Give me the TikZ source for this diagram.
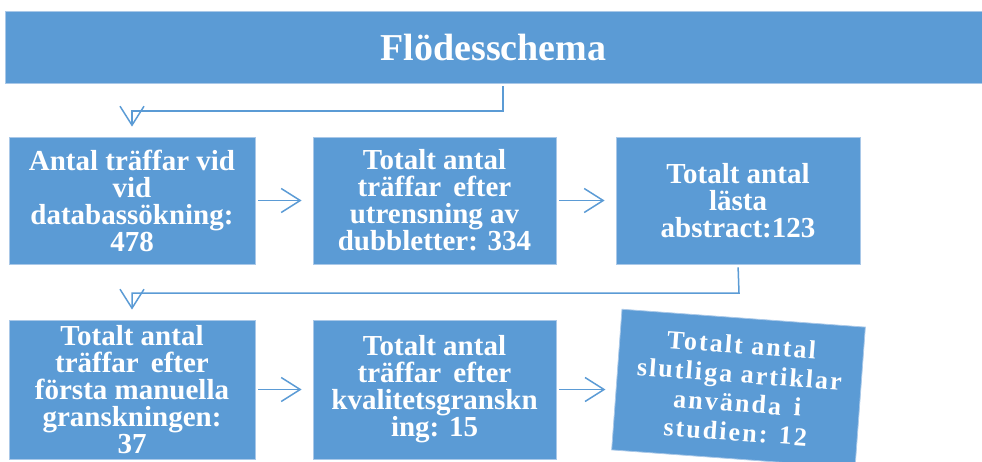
\documentclass[tikz,border=0pt]{standalone}
\usepackage{fontspec}
\setmainfont{Liberation Serif}
\usepackage{tikz}
\usetikzlibrary{arrows.meta}
\definecolor{officeblue}{HTML}{5B9BD5}
\definecolor{edgeblue}{HTML}{A9C8E8}
\tikzstyle{stepbox} = [draw=edgeblue, line width=0.8pt, fill=officeblue, text=white, align=center, inner sep=0pt, font=\bfseries\fontsize{29}{27}\selectfont]
\tikzstyle{titlebox} = [draw=edgeblue, line width=0.8pt, fill=officeblue, text=white, inner sep=0pt, font=\bfseries\fontsize{38}{40}\selectfont]
\tikzstyle{link} = [draw=officeblue, line width=1.5pt, -{Straight Barb[length=19pt, width=24pt, line width=1.5pt]}]

\begin{document}
\begin{tikzpicture}[x=1pt, y=-1pt]
  \useasboundingbox (0,0) rectangle (982,461);

  \node[titlebox, minimum width=977pt, minimum height=72pt] (title) at (493.5,47) {Flödesschema};

  \node[stepbox, minimum width=246pt, minimum height=127pt] (hits) at (132,200.5) {Antal träffar vid\\vid\\databassökning:\\478};
  \node[stepbox, minimum width=243pt, minimum height=127pt] (dedup) at (434.5,200.5) {Totalt antal\\träffar\, efter\\utrensning av\\dubbletter: 334};
  \node[stepbox, minimum width=244pt, minimum height=127pt] (abstr) at (738,200.5) {Totalt antal\\lästa\\abstract:123};

  \node[stepbox, minimum width=246pt, minimum height=139pt] (manual) at (132,389.5) {Totalt antal\\träffar\, efter\\första manuella\\granskningen:\\37};
  \node[stepbox, minimum width=243pt, minimum height=139pt] (quality) at (434.5,389.5) {Totalt antal\\träffar\, efter\\kvalitetsgranskn\\ing: 15};
  \node[stepbox, minimum width=244pt, minimum height=141pt, rotate=-4.2, font=\bfseries\fontsize{26}{29}\selectfont\addfontfeature{LetterSpace=8}] (final) at (738.5,388.5) {Totalt antal\\slutliga artiklar\\använda\, i\\studien: 12};

  \coordinate (turn1) at (503,111);
  \coordinate (turn2) at (739,293);

  \draw[link, shorten <=3pt, shorten >=10pt] (title.south -| turn1) -- (turn1) -| (hits.north);
  \draw[link, shorten <=3pt, shorten >=10pt] (abstr.south) -- (turn2) -| (manual.north);

  \draw[link, shorten <=3pt, shorten >=11pt] (hits.east) -- (dedup.west);
  \draw[link, shorten <=3pt, shorten >=11pt] (dedup.east) -- (abstr.west);
  \draw[link, shorten <=3pt, shorten >=11pt] (manual.east) -- (quality.west);
  \draw[link, shorten <=3pt, shorten >=11pt] (quality.east) -- (quality.east -| final.west);
\end{tikzpicture}
\end{document}
